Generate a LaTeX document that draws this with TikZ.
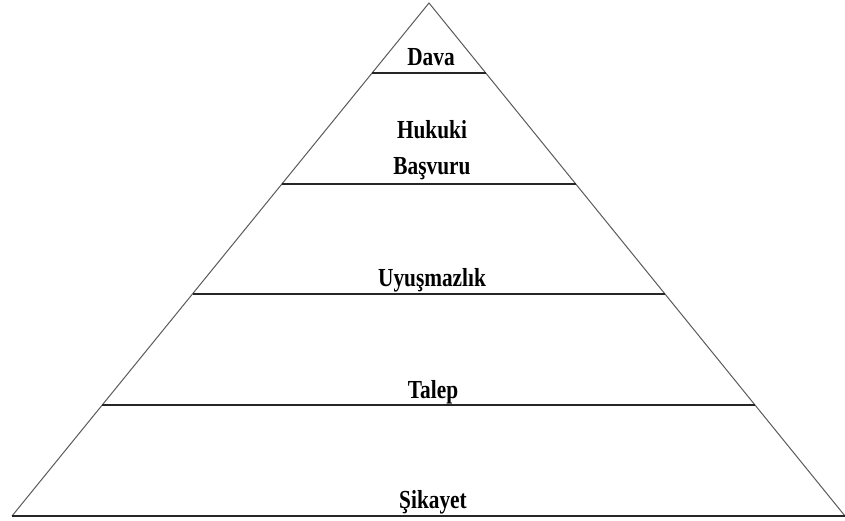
\documentclass[tikz,border=0pt]{standalone}
\usepackage{fontspec}
\setmainfont{Liberation Serif}
\newfontfamily\tierfamily[FakeStretch=0.82]{Liberation Serif}
\usepackage{tikz}
\usetikzlibrary{calc}
\definecolor{PY_EDGE}{HTML}{5a5a5a}
\definecolor{PY_LINE}{HTML}{262626}
\newcommand{\tierfont}{\tierfamily\fontsize{26}{36}\selectfont\bfseries}
\tikzset{
  side/.style={draw=PY_EDGE, line width=1pt},
  level/.style={draw=PY_LINE, line width=1.6pt},
  tier/.style={
    font=\tierfont, text=black,
    inner sep=0pt, anchor=base, align=center},
}
\begin{document}
\begin{tikzpicture}[x=1pt, y=-1pt]
  \useasboundingbox (0,0) rectangle (845,521);

  \coordinate (apex) at (429,3);
  \coordinate (bl)   at (12,516);
  \coordinate (br)   at (845,516);

  % pyramid sides and base
  \draw[side] (bl) -- (apex) -- (br);
  \draw[level] (bl) -- (br);

  % level lines
  \foreach \t/\n in {0.1365/l1, 0.353/l2, 0.567/l3, 0.784/l4}{
    \draw[level] ($(apex)!\t!(bl)$) coordinate (\n w) -- ($(apex)!\t!(br)$) coordinate (\n e);
  }

  \node[tier] (dava)  at (431,66)  {Dava};
  \node[tier] (hukuk) at (432,175) {Hukuki\\Başvuru};
  \node[tier] (uyus)  at (432,286) {Uyuşmazlık};
  \node[tier] (talep) at (433,398) {Talep};
  \node[tier] (sikay) at (433,508) {Şikayet};

\end{tikzpicture}
\end{document}
